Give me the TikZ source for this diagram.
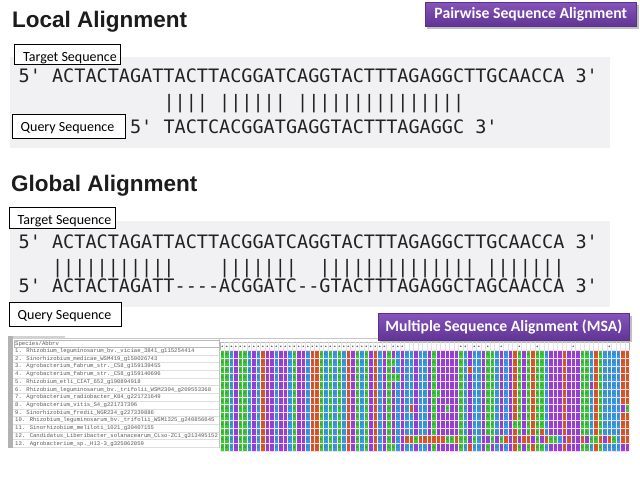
\documentclass[tikz,border=0pt]{standalone}
\usepackage{fontspec}
\setmainfont{Liberation Sans}
\setmonofont{DejaVu Sans Mono}
\newfontfamily\calib{Carlito}
\newfontfamily\listfont{Liberation Mono}
\definecolor{titlecol}{RGB}{28,28,28}
\definecolor{seqcol}{RGB}{34,34,34}
\definecolor{panelgray}{RGB}{241,241,243}
\definecolor{purptop}{RGB}{134,84,186}
\definecolor{purpbot}{RGB}{96,52,148}
\definecolor{purpedge}{RGB}{90,50,140}
\definecolor{colA}{RGB}{52,206,52}
\definecolor{colC}{RGB}{48,156,236}
\definecolor{colG}{RGB}{158,56,232}
\definecolor{colT}{RGB}{226,84,30}
\begin{document}
\begin{tikzpicture}[x=1pt,y=-1pt,
  titlet/.style={font=\fontsize{22.5}{27}\selectfont\bfseries, text=titlecol, inner sep=0, anchor=base west},
  seq/.style={font=\fontsize{18.5}{22}\selectfont\ttfamily, text=seqcol, inner sep=0, anchor=base west},
  lblbox/.style={draw=black, line width=1.2pt, fill=white, inner sep=0, anchor=north west},
  lbltext/.style={font=\calib\fontsize{14}{16}\selectfont, text=black, inner sep=0, anchor=base},
  badge/.style={draw=purpedge, line width=0.6pt, top color=purptop, bottom color=purpbot, inner sep=0, anchor=north west},
  badgetext/.style={font=\calib\fontsize{15.7}{18}\selectfont\bfseries, text=white, inner sep=0},
  cellt/.style={font=\fontsize{3.6}{4}\selectfont\bfseries, text=black!60, inner sep=0},
  listt/.style={font=\listfont\fontsize{5.6}{6}\selectfont, text=black!65, inner sep=0, anchor=base west},
  startxt/.style={font=\listfont\fontsize{5}{5}\selectfont, text=black, inner sep=0}]
\useasboundingbox[fill=white] (0,0) rectangle (640,485);

% ---------- Local alignment ----------
\node[titlet] (tlocal) at (12,27) {Local Alignment};
\fill[black,opacity=0.25] (427,4.5) rectangle (638.5,29);
\node[badge, minimum width=211pt, minimum height=24pt] (bpair) at (425,2) {};
\node[badgetext] (bpairt) at (bpair.center) {Pairwise Sequence Alignment};

\fill[panelgray] (10,57) rectangle (610,148);
\node[lblbox, minimum width=106pt, minimum height=20pt] (ltbox) at (14,44) {};
\node[lbltext] (ltt) at (70,61) {Target Sequence};
\node[lblbox, minimum width=113pt, minimum height=24pt] (lqbox) at (12,114) {};
\node[lbltext] (lqt) at (67.5,131) {Query Sequence};

\node[seq] (ls1) at (18.5,82) {5' ACTACTAGATTACTTACGGATCAGGTACTTTAGAGGCTTGCAACCA 3'};
\node[seq] (ls2) at (163.3,108.5) {||||~||||||~|||||||||||||||};
\node[seq] (ls3) at (129.9,133) {5' TACTCACGGATGAGGTACTTTAGAGGC 3'};

% ---------- Global alignment ----------
\node[titlet] (tglobal) at (11,191) {Global Alignment};
\fill[panelgray] (10,221) rectangle (610,307);
\node[lblbox, minimum width=106pt, minimum height=21pt] (gtbox) at (9,207) {};
\node[lbltext] (gtt) at (64.5,224) {Target Sequence};
\node[lblbox, minimum width=112pt, minimum height=24pt] (gqbox) at (9,302) {};
\node[lbltext] (gqt) at (64.5,319) {Query Sequence};

\node[seq] (gs1) at (18.5,248) {5' ACTACTAGATTACTTACGGATCAGGTACTTTAGAGGCTTGCAACCA 3'};
\node[seq] (gs2) at (51.9,273) {|||||||||||~~~~|||||||~~||||||||||||||~|||||||};
\node[seq] (gs3) at (18.5,292) {5' ACTACTAGATT----ACGGATC--GTACTTTAGAGGCTAGCAACCA 3'};

% ---------- MSA panel ----------
\draw[gray!45, line width=0.6pt] (8,338) -- (630,338);
\fill[gray!35] (8,335.5) rectangle (65,338.5);
\fill[gray!60] (8,336) rectangle (12.5,448);
\draw[gray!45, line width=0.5pt] (219.5,339) -- (219.5,448);
\node[draw=gray!55, fill=white, line width=0.5pt, minimum width=205pt, minimum height=7.5pt, inner sep=0, anchor=north west] (hdr) at (14,339.5) {};
\node[listt] (hdrt) at (15,345.7) {Species/Abbrv};
\foreach \k in {1,...,13} \draw[gray!25, line width=0.4pt] (13,{347+7.72*\k}) -- (219,{347+7.72*\k});
\foreach \t [count=\k from 0] in {
  1. Rhizobium\_leguminosarum\_bv.\_viciae\_3841\_g115254414,
  2. Sinorhizobium\_medicae\_WSM419\_g150026743,
  3. Agrobacterium\_fabrum\_str.\_C58\_g159139455,
  4. Agrobacterium\_fabrum\_str.\_C58\_g159140696,
  5. Rhizobium\_etli\_CIAT\_652\_g190894918,
  6. Rhizobium\_leguminosarum\_bv.\_trifolii\_WSM2304\_g209553368,
  7. Agrobacterium\_radiobacter\_K84\_g221721649,
  8. Agrobacterium\_vitis\_S4\_g221737306,
  9. Sinorhizobium\_fredii\_NGR234\_g227339886,
  10. Rhizobium\_leguminosarum\_bv.\_trifolii\_WSM1325\_g240856645,
  11. Sinorhizobium\_meliloti\_1021\_g30407155,
  12. Candidatus\_Liberibacter\_solanacearum\_CLso-ZC1\_g313495152,
  13. Agrobacterium\_sp.\_H13-3\_g325062059}
  \node[listt] (sp\k) at (15,{352.4+7.72*\k}) {\t};

% consensus row
\draw[gray!55, fill=white, line width=0.4pt] (220,342) rectangle (629.5,349.8);
\foreach \i in {1,...,90} \draw[gray!22, line width=0.3pt] ({220+4.5*\i},342) -- ({220+4.5*\i},349.8);
\foreach \i in {0,...,36,38,39,40,53,54,56,57,59,62,66,70,78,86}
  \node[startxt] (st\i) at ({222.25+4.5*\i},347.2) {*};

% alignment grid
\foreach \b [count=\i from 0] in {A,A,C,G,A,A,C,G,C,T,G,G,C,G,G,C,A,G,G,C,T,T,A,C,A,C,A,C,T,G,A,C,A,G,T,C,G,A,G,C,G,C,C,G,C,C,G,A,G,G,G,G,G,A,C,G,C,C,G,A,A,C,G,C,G,T,A,G,A,T,A,A,C,G,G,G,T,G,G,G,A,A,C,T,A,C,C,C,C,T,T} {
  \fill[col\b] ({220+4.5*\i},350.5) rectangle ++(4.5,100.75);
  \foreach \r in {0,...,12}
    \node[cellt] (c-\i-\r) at ({222.25+4.5*\i},{354.4+7.75*\r}) {\b};
}
% deviating residues
\foreach \r/\i/\b in {7/42/T,1/38/A,3/38/A,3/39/A,12/38/A,2/55/T,12/55/T,12/60/G,12/89/G,12/90/G,7/50/A,7/89/G,7/90/A,11/41/T,11/42/T,11/43/A,11/44/T,11/45/T,11/46/T,4/82/G,9/65/A,5/48/A,10/71/T}
  \node[cellt, fill=col\b, minimum width=4.5pt, minimum height=7.75pt] (d-\i-\r) at ({222.25+4.5*\i},{354.4+7.75*\r}) {\b};
\foreach \b [count=\i from 47] in {T,T,T,A,A,T,A,A,G,A,C,G,G,A,G,A,T,G,T,G,T,T,G,A,G,T,A,A,C,G,T,G,G,T,G,A,A,T,G,T,A,C,T,T}
  \node[cellt, fill=col\b, minimum width=4.5pt, minimum height=7.75pt] (e-\i) at ({222.25+4.5*\i},{354.4+7.75*11}) {\b};
\foreach \i in {0,...,91} \draw[white!90!gray, line width=0.45pt] ({220+4.5*\i},350.5) -- ++(0,100.75);
\foreach \r in {0,...,13} \draw[white!85!magenta, line width=0.6pt] (220,{350.5+7.75*\r}) -- ++(409.5,0);

% MSA badge
\fill[black,opacity=0.25] (380,315.5) rectangle (632,342);
\node[badge, minimum width=251pt, minimum height=27pt] (bmsa) at (378,313) {};
\node[badgetext] (bmsat) at (bmsa.center) {Multiple Sequence Alignment (MSA)};
\end{tikzpicture}
\end{document}
